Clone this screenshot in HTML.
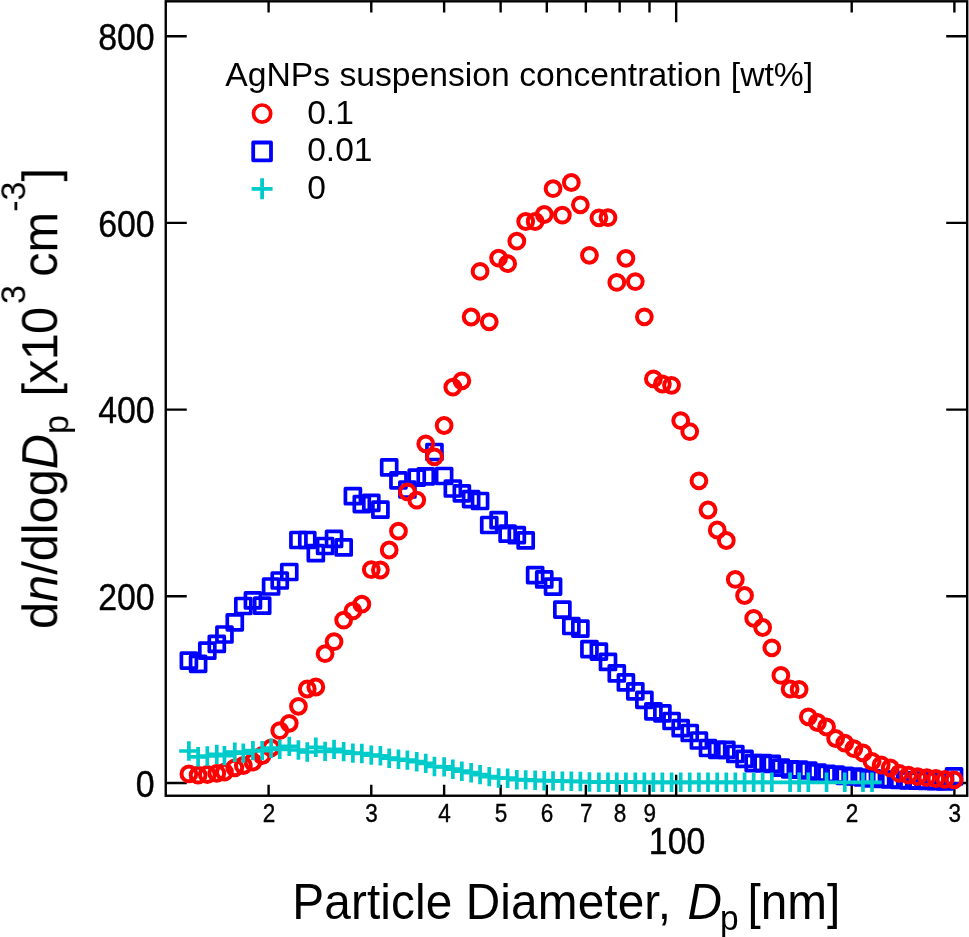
<!DOCTYPE html>
<html><head><meta charset="utf-8"><title>Particle size distribution</title>
<style>html,body{margin:0;padding:0;background:#fff;overflow:hidden;}svg{display:block;}text{font-family:"Liberation Sans",sans-serif;fill:#000;}</style></head><body>
<svg width="969" height="937" viewBox="0 0 969 937">
<rect x="0" y="0" width="969" height="937" fill="#fff"/>
<g fill="none" stroke="#000" stroke-width="2.4">
<rect x="165.75" y="1.3" width="801.45" height="794.45"/>
<path d="M165.75 783.00h21.0M967.2 783.00h-21.0"/>
<path d="M165.75 596.30h21.0M967.2 596.30h-21.0"/>
<path d="M165.75 409.60h21.0M967.2 409.60h-21.0"/>
<path d="M165.75 222.90h21.0M967.2 222.90h-21.0"/>
<path d="M165.75 36.20h21.0M967.2 36.20h-21.0"/>
<path d="M268.60 795.75v-11.1M268.60 1.3v11.1"/>
<path d="M371.28 795.75v-11.1M371.28 1.3v11.1"/>
<path d="M444.13 795.75v-11.1M444.13 1.3v11.1"/>
<path d="M500.64 795.75v-11.1M500.64 1.3v11.1"/>
<path d="M546.81 795.75v-11.1M546.81 1.3v11.1"/>
<path d="M585.85 795.75v-11.1M585.85 1.3v11.1"/>
<path d="M619.66 795.75v-11.1M619.66 1.3v11.1"/>
<path d="M649.49 795.75v-11.1M649.49 1.3v11.1"/>
<path d="M676.17 795.75v-21.0M676.17 1.3v21.0"/>
<path d="M851.70 795.75v-11.1M851.70 1.3v11.1"/>
<path d="M954.38 795.75v-11.1M954.38 1.3v11.1"/>
</g>
<g fill="none" stroke="#0000ff" stroke-width="3.7" stroke-linejoin="round">
<rect x="181.40" y="653.10" width="15.00" height="15.00"/>
<rect x="190.60" y="656.30" width="15.00" height="15.00"/>
<rect x="199.80" y="643.20" width="15.00" height="15.00"/>
<rect x="209.30" y="636.40" width="15.00" height="15.00"/>
<rect x="216.95" y="627.00" width="15.00" height="15.00"/>
<rect x="227.28" y="614.80" width="15.00" height="15.00"/>
<rect x="235.82" y="598.50" width="15.00" height="15.00"/>
<rect x="245.43" y="592.90" width="15.00" height="15.00"/>
<rect x="254.69" y="598.20" width="15.00" height="15.00"/>
<rect x="263.62" y="579.00" width="15.00" height="15.00"/>
<rect x="272.25" y="573.00" width="15.00" height="15.00"/>
<rect x="281.76" y="564.50" width="15.00" height="15.00"/>
<rect x="290.93" y="532.50" width="15.00" height="15.00"/>
<rect x="299.77" y="532.50" width="15.00" height="15.00"/>
<rect x="308.32" y="545.70" width="15.00" height="15.00"/>
<rect x="317.61" y="538.50" width="15.00" height="15.00"/>
<rect x="326.56" y="531.40" width="15.00" height="15.00"/>
<rect x="336.16" y="539.90" width="15.00" height="15.00"/>
<rect x="345.40" y="488.70" width="15.00" height="15.00"/>
<rect x="354.32" y="496.60" width="15.00" height="15.00"/>
<rect x="363.78" y="495.40" width="15.00" height="15.00"/>
<rect x="372.90" y="502.20" width="15.00" height="15.00"/>
<rect x="381.70" y="459.90" width="15.00" height="15.00"/>
<rect x="390.97" y="472.80" width="15.00" height="15.00"/>
<rect x="399.90" y="482.00" width="15.00" height="15.00"/>
<rect x="409.24" y="470.10" width="15.00" height="15.00"/>
<rect x="418.25" y="468.90" width="15.00" height="15.00"/>
<rect x="426.95" y="444.50" width="15.00" height="15.00"/>
<rect x="436.63" y="468.50" width="15.00" height="15.00"/>
<rect x="445.34" y="481.00" width="15.00" height="15.00"/>
<rect x="454.36" y="485.80" width="15.00" height="15.00"/>
<rect x="463.63" y="491.60" width="15.00" height="15.00"/>
<rect x="472.57" y="493.50" width="15.00" height="15.00"/>
<rect x="481.74" y="517.50" width="15.00" height="15.00"/>
<rect x="491.10" y="512.70" width="15.00" height="15.00"/>
<rect x="500.13" y="526.20" width="15.00" height="15.00"/>
<rect x="509.32" y="527.70" width="15.00" height="15.00"/>
<rect x="518.19" y="532.90" width="15.00" height="15.00"/>
<rect x="527.65" y="567.60" width="15.00" height="15.00"/>
<rect x="536.76" y="571.90" width="15.00" height="15.00"/>
<rect x="545.56" y="579.10" width="15.00" height="15.00"/>
<rect x="554.86" y="602.10" width="15.00" height="15.00"/>
<rect x="563.83" y="618.50" width="15.00" height="15.00"/>
<rect x="572.86" y="621.10" width="15.00" height="15.00"/>
<rect x="581.94" y="641.60" width="15.00" height="15.00"/>
<rect x="591.39" y="644.10" width="15.00" height="15.00"/>
<rect x="600.50" y="654.40" width="15.00" height="15.00"/>
<rect x="609.30" y="665.90" width="15.00" height="15.00"/>
<rect x="618.41" y="674.90" width="15.00" height="15.00"/>
<rect x="627.81" y="683.80" width="15.00" height="15.00"/>
<rect x="636.87" y="692.30" width="15.00" height="15.00"/>
<rect x="645.90" y="703.80" width="15.00" height="15.00"/>
<rect x="654.88" y="705.80" width="15.00" height="15.00"/>
<rect x="664.07" y="713.50" width="15.00" height="15.00"/>
<rect x="673.19" y="720.70" width="15.00" height="15.00"/>
<rect x="682.23" y="725.50" width="15.00" height="15.00"/>
<rect x="691.42" y="733.00" width="15.00" height="15.00"/>
<rect x="700.51" y="740.50" width="15.00" height="15.00"/>
<rect x="709.72" y="742.30" width="15.00" height="15.00"/>
<rect x="718.82" y="742.30" width="15.00" height="15.00"/>
<rect x="727.80" y="746.50" width="15.00" height="15.00"/>
<rect x="737.05" y="751.40" width="15.00" height="15.00"/>
<rect x="746.16" y="755.60" width="15.00" height="15.00"/>
<rect x="755.14" y="755.60" width="15.00" height="15.00"/>
<rect x="764.33" y="756.40" width="15.00" height="15.00"/>
<rect x="773.37" y="760.20" width="15.00" height="15.00"/>
<rect x="782.58" y="761.80" width="15.00" height="15.00"/>
<rect x="791.62" y="762.20" width="15.00" height="15.00"/>
<rect x="800.80" y="763.00" width="15.00" height="15.00"/>
<rect x="809.95" y="765.00" width="15.00" height="15.00"/>
<rect x="819.06" y="766.30" width="15.00" height="15.00"/>
<rect x="828.13" y="767.10" width="15.00" height="15.00"/>
<rect x="837.27" y="768.30" width="15.00" height="15.00"/>
<rect x="846.34" y="769.00" width="15.00" height="15.00"/>
<rect x="855.47" y="770.00" width="15.00" height="15.00"/>
<rect x="864.51" y="770.80" width="15.00" height="15.00"/>
<rect x="873.69" y="771.50" width="15.00" height="15.00"/>
<rect x="882.77" y="772.00" width="15.00" height="15.00"/>
<rect x="891.84" y="772.50" width="15.00" height="15.00"/>
<rect x="901.01" y="772.90" width="15.00" height="15.00"/>
<rect x="910.15" y="773.20" width="15.00" height="15.00"/>
<rect x="919.26" y="773.50" width="15.00" height="15.00"/>
<rect x="928.32" y="773.70" width="15.00" height="15.00"/>
<rect x="937.42" y="773.80" width="15.00" height="15.00"/>
<rect x="946.54" y="768.90" width="15.00" height="15.00"/>
</g>
<g fill="none" stroke="#ff0000" stroke-width="4.0">
<circle cx="188.90" cy="773.90" r="7.4"/>
<circle cx="198.10" cy="775.20" r="7.4"/>
<circle cx="207.30" cy="774.50" r="7.4"/>
<circle cx="216.80" cy="773.30" r="7.4"/>
<circle cx="224.45" cy="772.10" r="7.4"/>
<circle cx="234.78" cy="767.80" r="7.4"/>
<circle cx="243.32" cy="765.50" r="7.4"/>
<circle cx="252.93" cy="762.00" r="7.4"/>
<circle cx="262.19" cy="755.50" r="7.4"/>
<circle cx="271.12" cy="747.80" r="7.4"/>
<circle cx="279.75" cy="730.60" r="7.4"/>
<circle cx="289.26" cy="723.30" r="7.4"/>
<circle cx="298.43" cy="706.30" r="7.4"/>
<circle cx="307.27" cy="689.00" r="7.4"/>
<circle cx="315.82" cy="687.00" r="7.4"/>
<circle cx="325.11" cy="653.70" r="7.4"/>
<circle cx="334.06" cy="641.60" r="7.4"/>
<circle cx="343.66" cy="620.10" r="7.4"/>
<circle cx="352.90" cy="610.90" r="7.4"/>
<circle cx="361.82" cy="604.20" r="7.4"/>
<circle cx="371.28" cy="569.60" r="7.4"/>
<circle cx="380.40" cy="570.00" r="7.4"/>
<circle cx="389.20" cy="550.00" r="7.4"/>
<circle cx="398.47" cy="531.20" r="7.4"/>
<circle cx="407.40" cy="491.80" r="7.4"/>
<circle cx="416.74" cy="500.10" r="7.4"/>
<circle cx="425.75" cy="443.80" r="7.4"/>
<circle cx="434.45" cy="456.80" r="7.4"/>
<circle cx="444.13" cy="425.50" r="7.4"/>
<circle cx="452.84" cy="387.20" r="7.4"/>
<circle cx="461.86" cy="380.80" r="7.4"/>
<circle cx="471.13" cy="317.00" r="7.4"/>
<circle cx="480.07" cy="271.40" r="7.4"/>
<circle cx="489.24" cy="321.80" r="7.4"/>
<circle cx="498.60" cy="258.10" r="7.4"/>
<circle cx="507.63" cy="263.70" r="7.4"/>
<circle cx="516.82" cy="241.20" r="7.4"/>
<circle cx="525.69" cy="221.50" r="7.4"/>
<circle cx="535.15" cy="221.50" r="7.4"/>
<circle cx="544.26" cy="214.50" r="7.4"/>
<circle cx="553.06" cy="188.70" r="7.4"/>
<circle cx="562.36" cy="215.10" r="7.4"/>
<circle cx="571.33" cy="182.50" r="7.4"/>
<circle cx="580.36" cy="204.80" r="7.4"/>
<circle cx="589.44" cy="255.30" r="7.4"/>
<circle cx="598.89" cy="217.80" r="7.4"/>
<circle cx="608.00" cy="217.60" r="7.4"/>
<circle cx="616.80" cy="282.40" r="7.4"/>
<circle cx="625.91" cy="258.30" r="7.4"/>
<circle cx="635.31" cy="281.60" r="7.4"/>
<circle cx="644.37" cy="316.80" r="7.4"/>
<circle cx="653.40" cy="378.90" r="7.4"/>
<circle cx="662.38" cy="384.00" r="7.4"/>
<circle cx="671.57" cy="385.30" r="7.4"/>
<circle cx="680.69" cy="420.60" r="7.4"/>
<circle cx="689.73" cy="431.60" r="7.4"/>
<circle cx="698.92" cy="480.80" r="7.4"/>
<circle cx="708.01" cy="510.00" r="7.4"/>
<circle cx="717.22" cy="530.00" r="7.4"/>
<circle cx="726.32" cy="540.50" r="7.4"/>
<circle cx="735.30" cy="579.40" r="7.4"/>
<circle cx="744.55" cy="595.50" r="7.4"/>
<circle cx="753.66" cy="618.30" r="7.4"/>
<circle cx="762.64" cy="627.50" r="7.4"/>
<circle cx="771.83" cy="647.80" r="7.4"/>
<circle cx="780.87" cy="675.40" r="7.4"/>
<circle cx="790.08" cy="689.00" r="7.4"/>
<circle cx="799.12" cy="689.50" r="7.4"/>
<circle cx="808.30" cy="716.80" r="7.4"/>
<circle cx="817.45" cy="722.50" r="7.4"/>
<circle cx="826.56" cy="727.00" r="7.4"/>
<circle cx="835.63" cy="738.50" r="7.4"/>
<circle cx="844.77" cy="743.20" r="7.4"/>
<circle cx="853.84" cy="748.60" r="7.4"/>
<circle cx="862.97" cy="752.90" r="7.4"/>
<circle cx="872.01" cy="761.30" r="7.4"/>
<circle cx="881.19" cy="765.00" r="7.4"/>
<circle cx="890.27" cy="767.80" r="7.4"/>
<circle cx="899.34" cy="773.40" r="7.4"/>
<circle cx="908.51" cy="775.20" r="7.4"/>
<circle cx="917.65" cy="776.70" r="7.4"/>
<circle cx="926.76" cy="777.60" r="7.4"/>
<circle cx="935.82" cy="778.50" r="7.4"/>
<circle cx="944.92" cy="779.40" r="7.4"/>
<circle cx="954.04" cy="779.80" r="7.4"/>
</g>
<g fill="none" stroke="#00cbcb" stroke-width="3.7">
<path d="M179.20 751.00H198.60M188.90 741.30V760.70"/>
<path d="M188.40 756.80H207.80M198.10 747.10V766.50"/>
<path d="M197.60 756.00H217.00M207.30 746.30V765.70"/>
<path d="M207.10 754.40H226.50M216.80 744.70V764.10"/>
<path d="M214.75 755.60H234.15M224.45 745.90V765.30"/>
<path d="M225.08 752.20H244.48M234.78 742.50V761.90"/>
<path d="M233.62 753.10H253.02M243.32 743.40V762.80"/>
<path d="M243.23 750.60H262.63M252.93 740.90V760.30"/>
<path d="M252.49 750.60H271.89M262.19 740.90V760.30"/>
<path d="M261.42 748.20H280.82M271.12 738.50V757.90"/>
<path d="M270.05 749.40H289.45M279.75 739.70V759.10"/>
<path d="M279.56 746.40H298.96M289.26 736.70V756.10"/>
<path d="M288.73 750.00H308.13M298.43 740.30V759.70"/>
<path d="M297.57 752.00H316.97M307.27 742.30V761.70"/>
<path d="M306.12 747.30H325.52M315.82 737.60V757.00"/>
<path d="M315.41 751.40H334.81M325.11 741.70V761.10"/>
<path d="M324.36 749.40H343.76M334.06 739.70V759.10"/>
<path d="M333.96 751.60H353.36M343.66 741.90V761.30"/>
<path d="M343.20 753.10H362.60M352.90 743.40V762.80"/>
<path d="M352.12 753.50H371.52M361.82 743.80V763.20"/>
<path d="M361.58 755.10H380.98M371.28 745.40V764.80"/>
<path d="M370.70 755.80H390.10M380.40 746.10V765.50"/>
<path d="M379.50 758.20H398.90M389.20 748.50V767.90"/>
<path d="M388.77 759.30H408.17M398.47 749.60V769.00"/>
<path d="M397.70 760.10H417.10M407.40 750.40V769.80"/>
<path d="M407.04 761.70H426.44M416.74 752.00V771.40"/>
<path d="M416.05 763.40H435.45M425.75 753.70V773.10"/>
<path d="M424.75 766.50H444.15M434.45 756.80V776.20"/>
<path d="M434.43 766.90H453.83M444.13 757.20V776.60"/>
<path d="M443.14 769.20H462.54M452.84 759.50V778.90"/>
<path d="M452.16 771.20H471.56M461.86 761.50V780.90"/>
<path d="M461.43 772.70H480.83M471.13 763.00V782.40"/>
<path d="M470.37 774.60H489.77M480.07 764.90V784.30"/>
<path d="M479.54 776.60H498.94M489.24 766.90V786.30"/>
<path d="M488.90 778.00H508.30M498.60 768.30V787.70"/>
<path d="M497.93 778.20H517.33M507.63 768.50V787.90"/>
<path d="M507.12 779.70H526.52M516.82 770.00V789.40"/>
<path d="M515.99 779.90H535.39M525.69 770.20V789.60"/>
<path d="M525.45 780.30H544.85M535.15 770.60V790.00"/>
<path d="M534.56 780.70H553.96M544.26 771.00V790.40"/>
<path d="M543.36 780.90H562.76M553.06 771.20V790.60"/>
<path d="M552.66 781.10H572.06M562.36 771.40V790.80"/>
<path d="M561.63 781.30H581.03M571.33 771.60V791.00"/>
<path d="M570.66 781.50H590.06M580.36 771.80V791.20"/>
<path d="M579.74 782.00H599.14M589.44 772.30V791.70"/>
<path d="M589.19 782.20H608.59M598.89 772.50V791.90"/>
<path d="M598.30 782.20H617.70M608.00 772.50V791.90"/>
<path d="M607.10 782.20H626.50M616.80 772.50V791.90"/>
<path d="M616.21 782.20H635.61M625.91 772.50V791.90"/>
<path d="M625.61 782.20H645.01M635.31 772.50V791.90"/>
<path d="M634.67 782.30H654.07M644.37 772.60V792.00"/>
<path d="M643.70 782.30H663.10M653.40 772.60V792.00"/>
<path d="M652.68 782.30H672.08M662.38 772.60V792.00"/>
<path d="M661.87 782.30H681.27M671.57 772.60V792.00"/>
<path d="M670.99 782.30H690.39M680.69 772.60V792.00"/>
<path d="M680.03 782.30H699.43M689.73 772.60V792.00"/>
<path d="M689.22 782.30H708.62M698.92 772.60V792.00"/>
<path d="M698.31 782.30H717.71M708.01 772.60V792.00"/>
<path d="M707.52 782.30H726.92M717.22 772.60V792.00"/>
<path d="M716.62 782.30H736.02M726.32 772.60V792.00"/>
<path d="M725.60 782.30H745.00M735.30 772.60V792.00"/>
<path d="M734.85 782.30H754.25M744.55 772.60V792.00"/>
<path d="M743.96 782.30H763.36M753.66 772.60V792.00"/>
<path d="M752.94 782.30H772.34M762.64 772.60V792.00"/>
<path d="M762.13 782.30H781.53M771.83 772.60V792.00"/>
<path d="M780.38 782.30H799.78M790.08 772.60V792.00"/>
<path d="M789.42 782.30H808.82M799.12 772.60V792.00"/>
<path d="M798.60 782.30H818.00M808.30 772.60V792.00"/>
<path d="M816.86 782.30H836.26M826.56 772.60V792.00"/>
<path d="M835.07 782.30H854.47M844.77 772.60V792.00"/>
<path d="M853.27 782.30H872.67M862.97 772.60V792.00"/>
<path d="M862.31 782.30H881.71M872.01 772.60V792.00"/>
</g>
<g opacity="0.999">
<text transform="translate(154.60 796.70) scale(0.905 1)" font-size="37.4" text-anchor="end" stroke="#000" stroke-width="0.4" stroke-linejoin="round">0</text>
<text transform="translate(154.60 610.00) scale(0.905 1)" font-size="37.4" text-anchor="end" stroke="#000" stroke-width="0.4" stroke-linejoin="round">200</text>
<text transform="translate(154.60 423.30) scale(0.905 1)" font-size="37.4" text-anchor="end" stroke="#000" stroke-width="0.4" stroke-linejoin="round">400</text>
<text transform="translate(154.60 236.60) scale(0.905 1)" font-size="37.4" text-anchor="end" stroke="#000" stroke-width="0.4" stroke-linejoin="round">600</text>
<text transform="translate(154.60 49.90) scale(0.905 1)" font-size="37.4" text-anchor="end" stroke="#000" stroke-width="0.4" stroke-linejoin="round">800</text>
<text transform="translate(268.90 822.20) scale(0.85 1)" font-size="26.5" text-anchor="middle" stroke="#000" stroke-width="0.4" stroke-linejoin="round">2</text>
<text transform="translate(371.58 822.20) scale(0.85 1)" font-size="26.5" text-anchor="middle" stroke="#000" stroke-width="0.4" stroke-linejoin="round">3</text>
<text transform="translate(444.43 822.20) scale(0.85 1)" font-size="26.5" text-anchor="middle" stroke="#000" stroke-width="0.4" stroke-linejoin="round">4</text>
<text transform="translate(500.94 822.20) scale(0.85 1)" font-size="26.5" text-anchor="middle" stroke="#000" stroke-width="0.4" stroke-linejoin="round">5</text>
<text transform="translate(547.11 822.20) scale(0.85 1)" font-size="26.5" text-anchor="middle" stroke="#000" stroke-width="0.4" stroke-linejoin="round">6</text>
<text transform="translate(586.15 822.20) scale(0.85 1)" font-size="26.5" text-anchor="middle" stroke="#000" stroke-width="0.4" stroke-linejoin="round">7</text>
<text transform="translate(619.96 822.20) scale(0.85 1)" font-size="26.5" text-anchor="middle" stroke="#000" stroke-width="0.4" stroke-linejoin="round">8</text>
<text transform="translate(649.79 822.20) scale(0.85 1)" font-size="26.5" text-anchor="middle" stroke="#000" stroke-width="0.4" stroke-linejoin="round">9</text>
<text transform="translate(852.00 822.20) scale(0.85 1)" font-size="26.5" text-anchor="middle" stroke="#000" stroke-width="0.4" stroke-linejoin="round">2</text>
<text transform="translate(954.68 822.20) scale(0.85 1)" font-size="26.5" text-anchor="middle" stroke="#000" stroke-width="0.4" stroke-linejoin="round">3</text>
<text transform="translate(677.07 854.20) scale(0.905 1)" font-size="37.4" text-anchor="middle" stroke="#000" stroke-width="0.4" stroke-linejoin="round">100</text>
<text transform="translate(292.3 919.3) scale(0.955 1)" font-size="50" xml:space="preserve"><tspan letter-spacing="0.12">Particle Diameter,</tspan><tspan font-style="italic" dx="17.2">D</tspan><tspan font-size="35" dy="10.5" dx="-2.2">p</tspan><tspan dy="-10.5" dx="-4.5"> [nm]</tspan></text>
<text transform="translate(57.3 629) rotate(-90) scale(0.974 1)" font-size="50" xml:space="preserve">d<tspan font-style="italic">n</tspan>/dlog<tspan font-style="italic">D</tspan><tspan font-size="35" dy="10.5">p</tspan><tspan dy="-10.5" dx="6" letter-spacing="-0.8"> [x10</tspan><tspan font-size="35" dy="-32.5" dx="3.8">3</tspan><tspan dy="32.5" dx="-5.5"> cm</tspan><tspan font-size="35" dy="-32.5">-3</tspan><tspan dy="32.5">]</tspan></text>
<text x="225.2" y="86.4" font-size="33.7">AgNPs suspension concentration [wt%]</text>
<text x="307.2" y="123.6" font-size="33.6">0.1</text>
<text x="307.2" y="161.3" font-size="33.6">0.01</text>
<text x="307.2" y="198.7" font-size="33.6">0</text>
</g>
<circle cx="262.1" cy="113.6" r="8.6" fill="none" stroke="#ff0000" stroke-width="3.7"/>
<rect x="253.20" y="142.50" width="17.8" height="17.8" fill="none" stroke="#0000ff" stroke-width="3.8" stroke-linejoin="round"/>
<path d="M251.60 188.8H272.60M262.1 178.30V199.30" fill="none" stroke="#00cbcb" stroke-width="3.8"/>
</svg></body></html>
